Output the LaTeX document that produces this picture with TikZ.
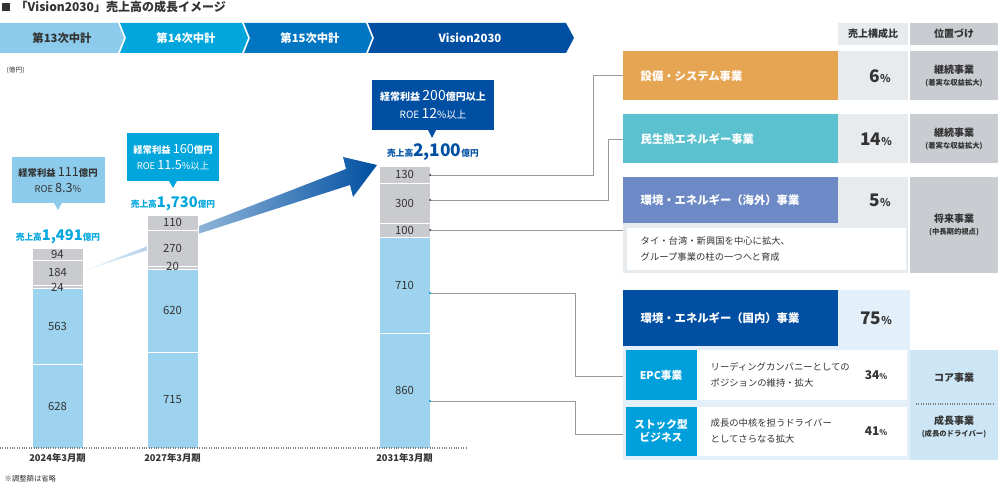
\documentclass[tikz,border=0pt]{standalone}
\usepackage{fontspec}
\setmainfont{Noto Sans CJK JP}
\usetikzlibrary{shapes.geometric}
\definecolor{c1}{HTML}{8CCBEB}\definecolor{c2}{HTML}{00A6DC}\definecolor{c3}{HTML}{0075C2}\definecolor{c4}{HTML}{004FA2}
\definecolor{barb}{HTML}{9DD3EE}\definecolor{barg}{HTML}{C9CBCF}
\definecolor{orng}{HTML}{E5A552}\definecolor{teal}{HTML}{5BC1CF}\definecolor{purp}{HTML}{6E8AC6}
\definecolor{lgray}{HTML}{E8EBEE}\definecolor{mgray}{HTML}{C9CCD1}\definecolor{lblue}{HTML}{E3F0F9}\definecolor{mblue}{HTML}{CDE6F5}
\definecolor{epc}{HTML}{00A0DC}\definecolor{txt}{HTML}{333333}
\begin{document}
\begin{tikzpicture}[x=0.75pt,y=-0.75pt,
 seg/.style={draw=white,line width=0.6pt},
 lab/.style={font=\fontsize{8.5}{9}\selectfont,text=txt},
 conn/.style={draw=gray!80,line width=0.6pt},
 chev/.style={font=\bfseries\fontsize{8.5}{10}\selectfont},
 wt/.style={text=white,font=\bfseries\fontsize{8.5}{10}\selectfont,anchor=west},
 pct/.style={font=\bfseries\fontsize{13}{14}\selectfont,text=txt},
 posn/.style={font=\bfseries\fontsize{7.5}{9}\selectfont,text=txt,align=center},
 call/.style={text=white,font=\fontsize{7}{12}\selectfont,align=center},
 big/.style={},
]
\newcommand{\bn}[1]{{\fontsize{9.5}{10}\selectfont #1}}
\useasboundingbox (0,0) rectangle (1000,484);
% title
\fill[txt] (2,3) rectangle (10,11);
\node[anchor=west,font=\bfseries\fontsize{9}{10}\selectfont,text=txt] (title) at (11,7) {「Vision2030」売上高の成長イメージ};
% chevrons
\fill[c1] (0,23) -- (118,23) -- (124,38) -- (118,53) -- (0,53) -- cycle;
\fill[c2] (120,23) -- (242,23) -- (248,38) -- (242,53) -- (120,53) -- (126,38) -- cycle;
\fill[c3] (244,23) -- (366,23) -- (372,38) -- (366,53) -- (244,53) -- (250,38) -- cycle;
\fill[c4] (368,23) -- (566,23) -- (574,38) -- (566,53) -- (368,53) -- (374,38) -- cycle;
\node[chev,text=txt] (h1) at (62,38) {第13次中計};
\node[chev,text=white] (h2) at (186,38) {第14次中計};
\node[chev,text=white] (h3) at (310,38) {第15次中計};
\node[chev,text=white] (h4) at (470,38) {Vision2030};
\node[font=\fontsize{5}{6}\selectfont,text=txt,anchor=west] (unit) at (2,70) {(億円)};
% big arrow
\shade[left color=c1!20, right color=c4] (86,270) -- (346,169) -- (343,157) -- (377,165) -- (353,197) -- (350,185) -- cycle;
% bars
\newcommand{\barseg}[6]{\fill[#5,seg] (#1,#3) rectangle (#2,#4); \node[lab] at ({(#1+#2)/2},{(#3+#4)/2}) {#6};}
\barseg{32}{83}{248}{260}{barg}{94}
\barseg{32}{83}{260}{285}{barg}{184}
\barseg{32}{83}{285}{288}{barg}{}
\barseg{32}{83}{288}{364}{barb}{563}
\barseg{32}{83}{364}{448}{barb}{628}
\node[lab] (v24) at (57.5,287) {24};
\barseg{147}{198}{215}{230}{barg}{110}
\barseg{147}{198}{230}{266}{barg}{270}
\barseg{147}{198}{266}{269}{barg}{}
\barseg{147}{198}{269}{352}{barb}{620}
\barseg{147}{198}{352}{448}{barb}{715}
\node[lab] (v20) at (172.5,266) {20};
\barseg{379}{430}{166}{183}{barg}{130}
\barseg{379}{430}{183}{223}{barg}{300}
\barseg{379}{430}{223}{237}{barg}{100}
\barseg{379}{430}{237}{333}{barb}{710}
\barseg{379}{430}{333}{448}{barb}{860}
\draw[gray,densely dotted,line width=0.8pt] (0,448) -- (467,448);
\node[lab,font=\bfseries\fontsize{7}{8}\selectfont] (x1) at (57.5,458) {2024年3月期};
\node[lab,font=\bfseries\fontsize{7}{8}\selectfont] (x2) at (172.5,458) {2027年3月期};
\node[lab,font=\bfseries\fontsize{7}{8}\selectfont] (x3) at (404.5,458) {2031年3月期};
\node[font=\fontsize{5.5}{6}\selectfont,text=txt,anchor=west] (note) at (0,479) {※調整額は省略};
% callouts
\fill[c1] (12,157) rectangle (105,203); \fill[c1] (54,203) -- (62,203) -- (58,210) -- cycle;
\node[call,text=txt] (cb1) at (58,180) {\textbf{経常利益} \bn{111}\textbf{億円}\\ROE \bn{8.3}\%};
\node[text=c2,font=\bfseries\fontsize{6.5}{8}\selectfont] (s1) at (58,237) {売上高{\fontsize{11}{12}\selectfont 1,491}億円};
\fill[c2] (127,133) rectangle (219,181); \fill[c2] (169,181) -- (177,181) -- (173,188) -- cycle;
\node[call] (cb2) at (173,157) {\textbf{経常利益} \bn{160}\textbf{億円}\\ROE \bn{11.5}\%以上};
\node[text=c2,font=\bfseries\fontsize{6.5}{8}\selectfont] (s2) at (173,204) {売上高{\fontsize{11}{12}\selectfont 1,730}億円};
\fill[c4] (372,80) rectangle (494,130); \fill[c4] (428,130) -- (436,130) -- (432,138) -- cycle;
\node[call,font=\fontsize{7.5}{13}\selectfont] (cb3) at (433,105) {\textbf{経常利益} {\fontsize{10.5}{11}\selectfont 200}\textbf{億円以上}\\ROE {\fontsize{10.5}{11}\selectfont 12}\%以上};
\node[text=c4,font=\bfseries\fontsize{6.5}{8}\selectfont] (s3) at (433,152) {売上高{\fontsize{13}{14}\selectfont 2,100}億円};
% table header
\fill[lgray] (838,23) rectangle (908,45); \fill[mgray] (910,23) rectangle (998,45);
\node[posn] (th1) at (873,34) {売上構成比};
\node[posn] (th2) at (954,34) {位置づけ};
% row1
\fill[orng] (623,51) rectangle (838,100); \fill[lgray] (838,51) rectangle (908,100); \fill[mgray] (910,51) rectangle (998,100);
\node[wt] (r1) at (636,76) {設備・システム事業};
\node[pct] (p1) at (880,76) {6{\fontsize{8}{8}\selectfont\%}};
\node[posn] (q1) at (954,76) {継続事業\\{\fontsize{5.5}{7}\selectfont (着実な収益拡大)}};
% row2
\fill[teal] (623,114) rectangle (838,163); \fill[lgray] (838,114) rectangle (908,163); \fill[mgray] (910,114) rectangle (998,163);
\node[wt] (r2) at (636,139) {民生熱エネルギー事業};
\node[pct] (p2) at (876,139) {14{\fontsize{8}{8}\selectfont\%}};
\node[posn] (q2) at (954,139) {継続事業\\{\fontsize{5.5}{7}\selectfont (着実な収益拡大)}};
% row3
\fill[lgray] (623,177) rectangle (908,273);
\fill[purp] (623,177) rectangle (838,223); \fill[mgray] (910,177) rectangle (998,273);
\fill[white] (627,228) rectangle (906,270);
\node[wt] (r3) at (636,200) {環境・エネルギー（海外）事業};
\node[pct] (p3) at (880,200) {5{\fontsize{8}{8}\selectfont\%}};
\node[posn] (q3) at (954,225) {将来事業\\{\fontsize{5.5}{7}\selectfont (中長期的視点)}};
\node[anchor=west,align=left,text=txt,font=\fontsize{7}{12}\selectfont] (d3) at (636,249) {タイ・台湾・新興国を中心に拡大、\\グループ事業の柱の一つへと育成};
% row4
\fill[lblue] (623,290) rectangle (910,460);
\fill[c4] (623,290) rectangle (838,346);
\fill[mblue] (910,350) rectangle (998,460);
\fill[white] (626,350) rectangle (907,400); \fill[white] (626,407) rectangle (907,456);
\fill[epc] (626,350) rectangle (697,400); \fill[epc] (626,407) rectangle (697,456);
\node[wt] (r4) at (636,318) {環境・エネルギー（国内）事業};
\node[pct] (p4) at (876,318) {75{\fontsize{8}{8}\selectfont\%}};
\node[wt,anchor=center,align=center,font=\bfseries\fontsize{8}{10}\selectfont] (epcn) at (661,375) {EPC事業};
\node[wt,anchor=center,align=center,font=\bfseries\fontsize{8}{10}\selectfont] (stk) at (661,431) {ストック型\\ビジネス};
\node[anchor=west,align=left,text=txt,font=\fontsize{7}{12}\selectfont] (d4) at (706,375) {リーディングカンパニーとしての\\ポジションの維持・拡大};
\node[anchor=west,align=left,text=txt,font=\fontsize{7}{12}\selectfont] (d5) at (706,431) {成長の中核を担うドライバー\\としてさらなる拡大};
\node[pct,font=\bfseries\fontsize{9}{10}\selectfont] (p5) at (876,375) {34{\fontsize{6}{6}\selectfont\%}};
\node[pct,font=\bfseries\fontsize{9}{10}\selectfont] (p6) at (876,431) {41{\fontsize{6}{6}\selectfont\%}};
\node[posn] (q4) at (954,378) {コア事業};
\draw[gray,densely dotted,line width=0.8pt] (916,404) -- (994,404);
\node[posn] (q5) at (954,427) {成長事業\\{\fontsize{5.5}{7}\selectfont (成長のドライバー)}};
% connectors
\coordinate (a1) at (430,175); \coordinate (b1) at (623,75);
\coordinate (a2) at (430,200); \coordinate (b2) at (623,139);
\coordinate (a3) at (430,230); \coordinate (b3) at (623,230);
\coordinate (a4) at (430,293); \coordinate (b4) at (623,376);
\coordinate (a5) at (430,401); \coordinate (b5) at (623,434);
\draw[conn] (a1) -- (593,175) |- (b1);
\draw[conn] (a2) -- (608,200) |- (b2);
\draw[conn] (a3) -- (b3);
\draw[conn] (a4) -- (575,293) |- (b4);
\draw[conn] (a5) -- (575,401) |- (b5);
\foreach \p in {a1,a2,a3}{\fill[txt] (\p) circle (1);}
\foreach \p in {a4,a5}{\fill[c2] (\p) circle (1.2);}
\end{tikzpicture}
\end{document}
